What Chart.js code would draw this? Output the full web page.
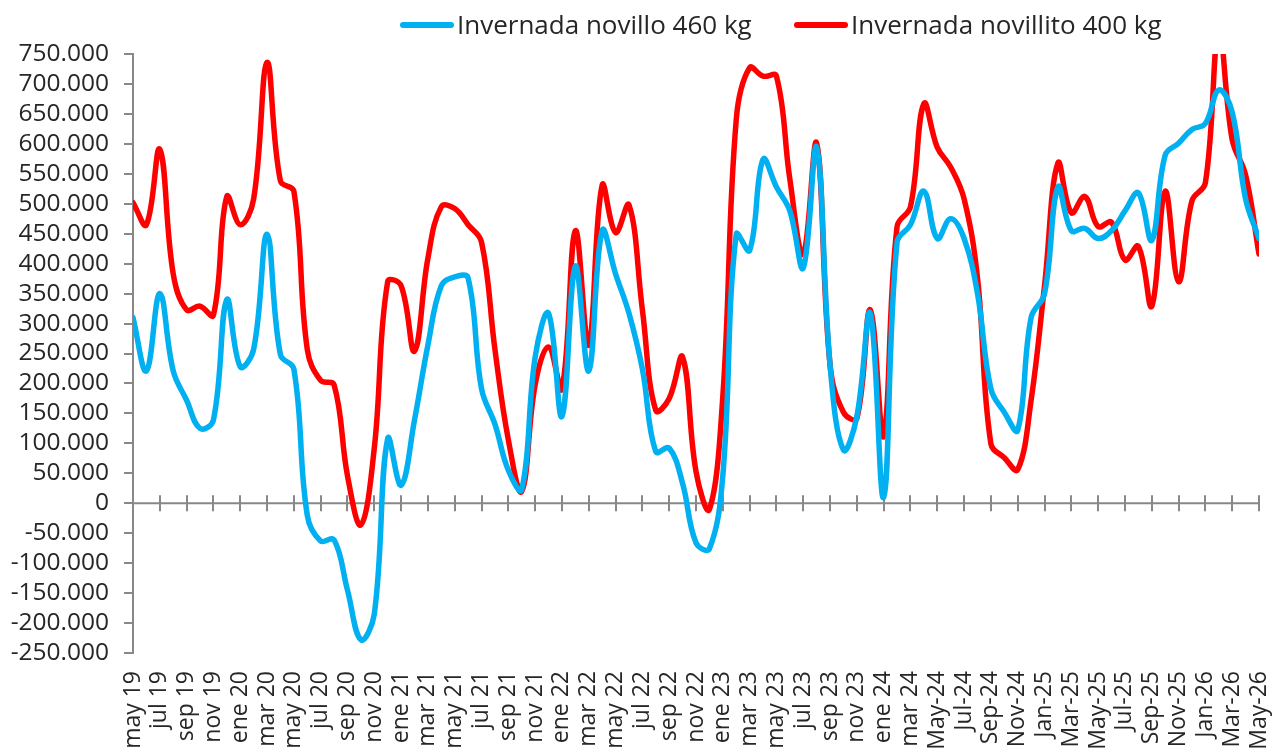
<!DOCTYPE html>
<html lang="es">
<head>
<meta charset="utf-8">
<title>Invernada</title>
<script src="https://cdn.jsdelivr.net/npm/chart.js@4.4.1/dist/chart.umd.min.js"></script>
<style>
  html, body { margin: 0; padding: 0; background: #ffffff; }
  #wrap { width: 1273px; height: 756px; }
</style>
</head>
<body>
<div id="wrap"><canvas id="chart" width="1273" height="756"></canvas></div>
<script>
// Monthly categories, May 2019 - May 2026
const months = [
  'may 19','jun 19','jul 19','ago 19','sep 19','oct 19','nov 19','dic 19',
  'ene 20','feb 20','mar 20','abr 20','may 20','jun 20','jul 20','ago 20','sep 20','oct 20','nov 20','dic 20',
  'ene 21','feb 21','mar 21','abr 21','may 21','jun 21','jul 21','ago 21','sep 21','oct 21','nov 21','dic 21',
  'ene 22','feb 22','mar 22','abr 22','may 22','jun 22','jul 22','ago 22','sep 22','oct 22','nov 22','dic 22',
  'ene 23','feb 23','mar 23','abr 23','may 23','jun 23','jul 23','ago 23','sep 23','oct 23','nov 23','dic 23',
  'ene 24','feb 24','mar 24','abr 24','May-24','Jun-24','Jul-24','Aug-24','Sep-24','Oct-24','Nov-24','Dec-24',
  'Jan-25','Feb-25','Mar-25','Apr-25','May-25','Jun-25','Jul-25','Aug-25','Sep-25','Oct-25','Nov-25','Dec-25',
  'Jan-26','Feb-26','Mar-26','Apr-26','May-26'
];

const seriesNames = ['Invernada novillo 460 kg', 'Invernada novillito 400 kg'];

// Invernada novillo 460 kg
const novillo460 = [
  310000, 221000, 350000, 221000, 172000, 125000, 139000, 340000,
  228000, 257000, 449000, 248000, 224000, -20000, -63000, -61000, -145000, -228000, -185000, 108000,
  30000, 139000, 264000, 363000, 378000, 376000, 191000, 132000, 55000, 23000, 244000, 317000,
  145000, 396000, 221000, 455000, 383000, 317000, 224000, 86000, 92000, 33000, -66000, -76000,
  46000, 449000, 422000, 574000, 528000, 488000, 393000, 594000, 231000, 89000, 145000, 317000,
  10000, 436000, 465000, 521000, 442000, 475000, 442000, 350000, 191000, 152000, 122000, 310000,
  350000, 528000, 455000, 459000, 442000, 455000, 488000, 518000, 439000, 581000, 601000, 624000,
  634000, 690000, 653000, 508000, 442000
];

// Invernada novillito 400 kg
const novillito400 = [
  502000, 465000, 591000, 383000, 323000, 329000, 314000, 512000,
  465000, 508000, 736000, 538000, 521000, 257000, 205000, 198000, 46000, -36000, 92000, 370000,
  363000, 254000, 409000, 495000, 492000, 465000, 436000, 257000, 106000, 20000, 198000, 261000,
  191000, 455000, 264000, 531000, 452000, 498000, 323000, 155000, 175000, 244000, 53000, -10000,
  178000, 640000, 727000, 713000, 713000, 541000, 416000, 601000, 231000, 152000, 142000, 323000,
  112000, 462000, 495000, 667000, 594000, 561000, 508000, 376000, 99000, 76000, 56000, 172000,
  363000, 568000, 485000, 512000, 462000, 469000, 406000, 429000, 329000, 521000, 370000, 505000,
  535000, 790000, 607000, 548000, 416000
];

const yMin = -250000, yMax = 750000, yStep = 50000;

const AXIS_GREY = '#888888';
const TEXT = '#262626';
const FONT = "'Open Sans', 'DejaVu Sans', sans-serif";

function thousands(v) {
  const s = Math.abs(v).toString().replace(/\B(?=(\d{3})+(?!\d))/g, '.');
  return (v < 0 ? '-' : '') + s;
}

// Horizontal axis line at zero with crossing tick marks every two months
const zeroAxis = {
  id: 'zeroAxis',
  beforeDatasetsDraw(chart) {
    const { ctx, chartArea, scales } = chart;
    const y0 = scales.y.getPixelForValue(0);
    ctx.save();
    ctx.strokeStyle = AXIS_GREY;
    ctx.lineWidth = 2;
    ctx.beginPath();
    ctx.moveTo(chartArea.left, y0);
    ctx.lineTo(chartArea.right, y0);
    for (let i = 2; i < months.length; i += 2) {
      const px = Math.round(scales.x.getPixelForValue(i));
      ctx.moveTo(px, y0 - 8);
      ctx.lineTo(px, y0 + 8);
    }
    ctx.stroke();
    ctx.restore();
  }
};

// Legend row above the plot
const legendRow = {
  id: 'legendRow',
  afterDraw(chart) {
    const { ctx } = chart;
    const starts = [401, 795];
    chart.data.datasets.forEach((ds, i) => {
      const x0 = starts[i];
      ctx.save();
      ctx.strokeStyle = ds.borderColor;
      ctx.lineWidth = 6;
      ctx.lineCap = 'round';
      ctx.beginPath();
      ctx.moveTo(x0 + 2, 25);
      ctx.lineTo(x0 + 50, 25);
      ctx.stroke();
      ctx.fillStyle = TEXT;
      ctx.font = '26px ' + FONT;
      ctx.textAlign = 'left';
      ctx.textBaseline = 'alphabetic';
      ctx.fillText(ds.label, x0 + 56, 34);
      ctx.restore();
    });
  }
};

new Chart(document.getElementById('chart'), {
  type: 'line',
  data: {
    labels: months,
    datasets: [
      {
        label: seriesNames[0],
        data: novillo460,
        borderColor: '#00B0F0',
        backgroundColor: '#00B0F0',
        borderWidth: 5.5,
        pointRadius: 0,
        tension: 0.4,
        borderJoinStyle: 'round',
        borderCapStyle: 'round',
        clip: 0
      },
      {
        label: seriesNames[1],
        data: novillito400,
        borderColor: '#FF0000',
        backgroundColor: '#FF0000',
        borderWidth: 5.5,
        pointRadius: 0,
        tension: 0.4,
        borderJoinStyle: 'round',
        borderCapStyle: 'round',
        clip: 0
      }
    ]
  },
  options: {
    responsive: false,
    animation: false,
    devicePixelRatio: 1,
    layout: { padding: { top: 54, right: 14, left: 0, bottom: 0 } },
    plugins: {
      legend: { display: false },
      tooltip: { enabled: false }
    },
    scales: {
      x: {
        type: 'category',
        offset: false,
        grid: { display: false, drawTicks: false },
        border: { display: false },
        ticks: {
          autoSkip: false,
          minRotation: 90,
          maxRotation: 90,
          padding: 18,
          color: TEXT,
          font: { family: FONT, size: 23 },
          callback: function (value, index) {
            return index % 2 === 0 ? months[index] : '';
          }
        },
        afterFit(scale) {
          scale.height = 103;
          scale.paddingLeft = 0;
          scale.paddingRight = 0;
        }
      },
      y: {
        min: yMin,
        max: yMax,
        grid: {
          drawOnChartArea: false,
          drawTicks: true,
          tickLength: 9,
          color: AXIS_GREY,
          lineWidth: 2
        },
        border: { display: true, color: AXIS_GREY, width: 2 },
        ticks: {
          stepSize: yStep,
          autoSkip: false,
          padding: 15,
          color: TEXT,
          font: { family: FONT, size: 24.5 },
          callback: function (v) { return thousands(v); }
        },
        afterFit(scale) {
          scale.width = 133;
          scale.paddingTop = 0;
          scale.paddingBottom = 0;
        }
      }
    }
  },
  plugins: [zeroAxis, legendRow]
});
</script>
</body>
</html>
